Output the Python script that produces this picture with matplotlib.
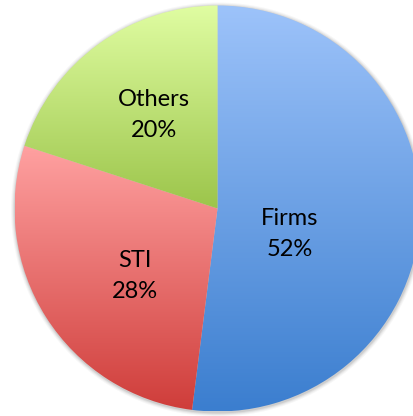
import matplotlib
matplotlib.use("Agg")
import matplotlib.pyplot as plt
import numpy as np
from matplotlib.colors import LinearSegmentedColormap
from matplotlib.patches import Circle

categories = ["Firms", "STI", "Others"]
shares = [52, 28, 20]
top_colors = ["#9DC3FA", "#FFA1A1", "#E0FDA2"]
bottom_colors = ["#3B7ECF", "#CF3D3A", "#9CC54B"]
label_pos = [(290, 182), (135, 140), (154, 301)]  # pixel coords (x, y from bottom)

fig = plt.figure(figsize=(4.14, 4.16), dpi=100)
ax = fig.add_axes([0, 0, 1, 1])
cx, cy, r = 217.5, 207.5, 203

# soft shadow
for k, a in [(4, 0.03), (3, 0.04), (2, 0.06), (1, 0.08)]:
    ax.add_patch(Circle((cx + 0.5, cy - 1), r + k, facecolor="black", edgecolor="none", alpha=a, zorder=0))

wedges, _ = ax.pie(shares, startangle=90, counterclock=False, center=(cx, cy),
                   radius=r, frame=True, wedgeprops=dict(linewidth=0))

for w, tc, bc in zip(wedges, top_colors, bottom_colors):
    th = np.radians(np.linspace(w.theta1, w.theta2, 200))
    xs = np.concatenate([[w.center[0]], w.center[0] + w.r * np.cos(th)])
    ys = np.concatenate([[w.center[1]], w.center[1] + w.r * np.sin(th)])
    cmap = LinearSegmentedColormap.from_list("g", [bc, tc])
    grad = np.linspace(0, 1, 256).reshape(-1, 1)
    im = ax.imshow(grad, cmap=cmap, origin="lower", aspect="auto", interpolation="bilinear",
                   extent=(xs.min(), xs.max(), ys.min(), ys.max()), zorder=1)
    im.set_clip_path(w)
    w.set_facecolor("none")
    w.set_zorder(2)

for name, s, (x, y) in zip(categories, shares, label_pos):
    ax.text(x, y, f"{name}\n{s}%", ha="center", va="center", fontsize=17,
            family="Lato", color="black", linespacing=1.6, zorder=3)

ax.set_xlim(0, 414)
ax.set_ylim(0, 416)
ax.axis("off")
fig.savefig("out.png", dpi=100)
